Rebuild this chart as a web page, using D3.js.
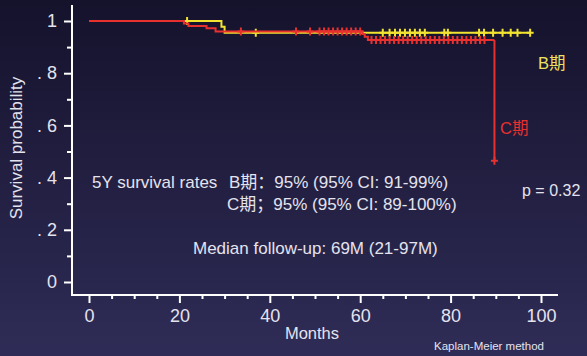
<!DOCTYPE html>
<html><head><meta charset="utf-8">
<script src="https://cdn.jsdelivr.net/npm/d3@7"></script>
<style>
html,body{margin:0;padding:0;background:#1e1b3e;}
svg{display:block;font-family:"Liberation Sans",Arial,"Noto Sans CJK SC",sans-serif;}
</style></head>
<body>
<svg id="c" width="587" height="356"></svg>
<script>
// Kaplan-Meier step points [month, survival]
const stageBSteps = [[0,1],[29.3,0.978],[30,0.955],[97.6,0.955]];
const stageCSteps = [[0,1],[21,0.99],[22,0.981],[26,0.972],[28,0.96],[60.5,0.95],[61,0.94],[61.7,0.927],[89.7,0.927],[89.7,0.465]];
const stageBCensor = [21.7,36.9,65,66.5,67.7,68.8,69.9,71,72.1,73.2,74.3,78.6,79.4,86.3,87.4,89.4,91.5,93.3,94.8,97.6];
const stageCCensor = [33.6,45.8,48.9,51,52,53,54,55,56,57,58,59,60,62.5,63.5,64.5,65.5,66.5,67.5,68.5,69.5,70.5,71.5,72.5,73.5,74.5,75.5,76.5,77.5,78.5,79.5,80.5,81.5,82.5,83.5,84.5,85.5,86.5,87.5];
const stageCLastCensor = [[89.7,0.465]];
const xTicks = [0,20,40,60,80,100];
const xMinorTicks = d3.range(0,101,5);
const yTicks = [0,0.2,0.4,0.6,0.8,1];
const yTickLabels = ["0",". 2",". 4",". 6",". 8","1"];
const yMinorTicks = [0.1,0.3,0.5,0.7,0.9];

const FONT = '"Liberation Sans",Arial,"Noto Sans CJK SC",sans-serif';
const svg = d3.select("#c");
const defs = svg.append("defs");
const g = defs.append("linearGradient").attr("id","bg").attr("x1",0).attr("y1",0).attr("x2",0).attr("y2",1);
g.append("stop").attr("offset","0%").attr("stop-color","#15122c");
g.append("stop").attr("offset","100%").attr("stop-color","#2f2c57");
svg.append("rect").attr("width",587).attr("height",356).attr("fill","url(#bg)");

const x = d3.scaleLinear().domain([0,100]).range([89,541]);
const y = d3.scaleLinear().domain([0,1]).range([282,21]);
const axisColor = "#ffffff";
const textColor = "#e4e3ee";

// axes lines
svg.append("path").attr("d","M72,5V295H558").attr("fill","none").attr("stroke",axisColor).attr("stroke-width",2);

// y ticks
const yAxis = svg.append("g").attr("transform","translate(72,0)")
  .call(d3.axisLeft(y).tickValues(yTicks).tickSize(8).tickFormat((d,i)=>yTickLabels[i]));
yAxis.attr("font-family",FONT);
yAxis.select(".domain").remove();
yAxis.selectAll("line").attr("stroke",axisColor).attr("stroke-width",2);
yAxis.selectAll("text").attr("fill",textColor).attr("font-size",18).attr("x",-15);
svg.append("g").attr("transform","translate(72,0)")
  .call(d3.axisLeft(y).tickValues(yMinorTicks).tickSize(5).tickFormat(""))
  .call(s=>{s.select(".domain").remove(); s.selectAll("line").attr("stroke",axisColor).attr("stroke-width",2);});

// x ticks
const xAxis = svg.append("g").attr("transform","translate(0,295)")
  .call(d3.axisBottom(x).tickValues(xTicks).tickSize(8).tickFormat(d3.format("d")));
xAxis.attr("font-family",FONT);
xAxis.select(".domain").remove();
xAxis.selectAll("line").attr("stroke",axisColor).attr("stroke-width",2);
xAxis.selectAll("text").attr("fill",textColor).attr("font-size",18).attr("y",14);
svg.append("g").attr("transform","translate(0,295)")
  .call(d3.axisBottom(x).tickValues(xMinorTicks.filter(v=>v%20!==0)).tickSize(4).tickFormat(""))
  .call(s=>{s.select(".domain").remove(); s.selectAll("line").attr("stroke",axisColor).attr("stroke-width",2);});

// axis titles
svg.append("text").attr("transform","translate(22,148) rotate(-90)").attr("text-anchor","middle")
  .attr("fill",textColor).attr("font-size",17).text("Survival probability");
svg.append("text").attr("x",312).attr("y",339).attr("text-anchor","middle")
  .attr("fill",textColor).attr("font-size",16.5).text("Months");
svg.append("text").attr("x",489).attr("y",350).attr("text-anchor","middle")
  .attr("fill",textColor).attr("font-size",11.5).text("Kaplan-Meier method");

// curves
const line = d3.line().x(d=>x(d[0])).y(d=>y(d[1])).curve(d3.curveStepAfter);
const yellow = "#f2e330", red = "#e8312f";
function cross(sel, pts, color){
  sel.selectAll(null).data(pts).enter().append("path")
    .attr("d",d=>`M${x(d[0])-3.5},${y(d[1])}h7M${x(d[0])},${y(d[1])-4}v8`)
    .attr("stroke",color).attr("stroke-width",2).attr("fill","none");
}
function survAt(steps,t){ let s=1; for(const p of steps){ if(p[0]<=t) s=p[1]; } return s; }
const gB = svg.append("g");
gB.append("path").datum(stageBSteps).attr("d",line).attr("fill","none").attr("stroke",yellow).attr("stroke-width",2);
cross(gB, stageBCensor.map(t=>[t,survAt(stageBSteps,t)]), yellow);
const gC = svg.append("g");
const cLine = stageCSteps.slice(0,-1);
gC.append("path").datum(cLine).attr("d",line).attr("fill","none").attr("stroke",red).attr("stroke-width",2);
gC.append("path").datum(stageCSteps.slice(-2)).attr("d",d3.line().x(d=>x(d[0])).y(d=>y(d[1]))).attr("fill","none").attr("stroke",red).attr("stroke-width",2);
cross(gC, stageCCensor.map(t=>[t,survAt(cLine,t)]), red);
cross(gC, stageCLastCensor, red);

// labels
svg.append("text").attr("x",538).attr("y",69).attr("fill","#f0e060").attr("font-size",16.5).text("B期");
svg.append("text").attr("x",500).attr("y",134).attr("fill",red).attr("font-size",16.5).text("C期");
svg.append("text").attr("x",522).attr("y",196).attr("fill",textColor).attr("font-size",16).text("p = 0.32");
svg.append("text").attr("x",92).attr("y",188).attr("fill",textColor).attr("font-size",17).text("5Y survival rates");
svg.append("text").attr("x",229).attr("y",188).attr("fill",textColor).attr("font-size",17).text("B期：95% (95% CI: 91-99%)");
svg.append("text").attr("x",227).attr("y",210).attr("fill",textColor).attr("font-size",17).text("C期；95% (95% CI: 89-100%)");
svg.append("text").attr("x",193).attr("y",254).attr("fill",textColor).attr("font-size",17).text("Median follow-up: 69M (21-97M)");
</script>
</body></html>
